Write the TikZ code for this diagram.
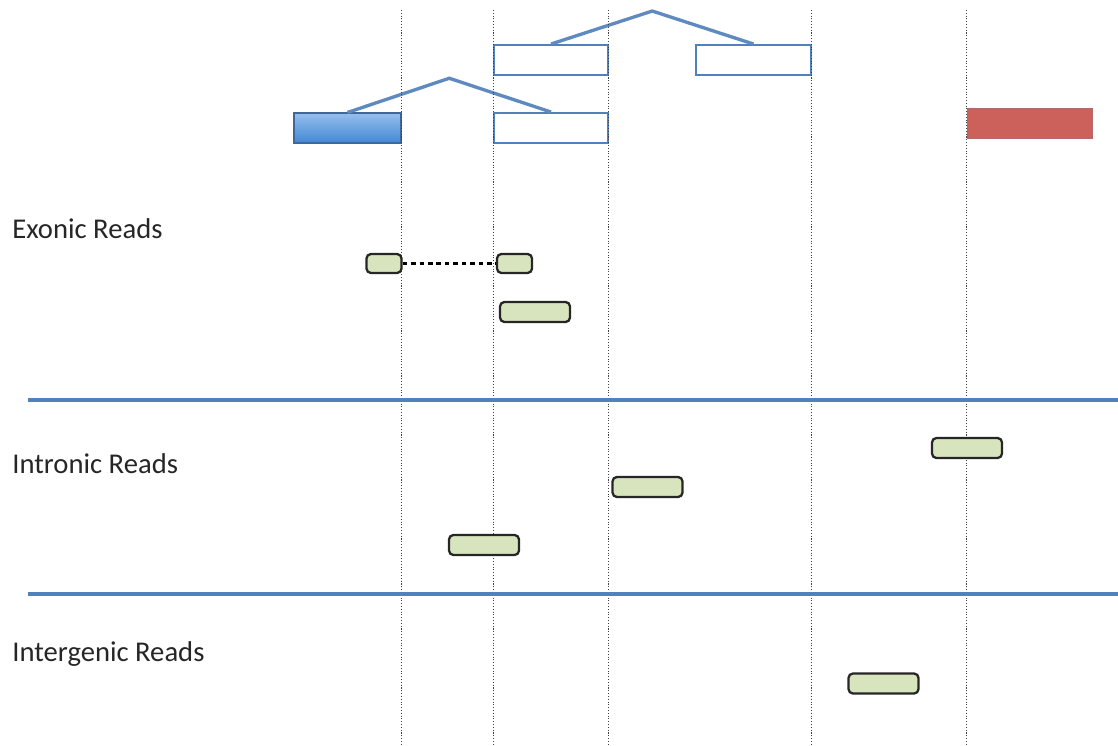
\documentclass[tikz,border=0pt]{standalone}
\usepackage{fontspec}
\setmainfont{Carlito}
\usetikzlibrary{calc}

\definecolor{exonblue}{RGB}{79,129,189}
\definecolor{spliceblue}{RGB}{95,138,192}
\definecolor{cdstop}{RGB}{150,190,236}
\definecolor{cdsbottom}{RGB}{66,136,214}
\definecolor{readgreen}{RGB}{215,228,189}
\definecolor{utrred}{RGB}{204,96,90}

\tikzset{
  exon/.style={draw=exonblue, line width=1.1pt, fill=white, inner sep=0pt,
    minimum height=0.6cm},
  read/.style={draw=black!85, line width=1.3pt, fill=readgreen, rounded corners=2.5pt,
    inner sep=0pt, minimum width=1.4cm, minimum height=0.4cm},
  shortread/.style={read, minimum width=0.7cm, minimum height=0.38cm},
  guide/.style={black!75, line width=0.6pt, densely dotted},
  splice/.style={spliceblue, line width=1.9pt},
  divider/.style={exonblue, line width=2pt},
  readtype/.style={anchor=base west, inner sep=0pt, text=black!85,
    font=\fontsize{16.3}{19}\selectfont}
}

\begin{document}
\begin{tikzpicture}[x=0.02cm, y=-0.02cm]
  \useasboundingbox (0,0) rectangle (1118,746);

  % gene model
  \node[exon, minimum width=2.14cm, draw=exonblue!80!black, line width=0.6pt,
    top color=cdstop, bottom color=cdsbottom] (cds) at (347.5,128) {};
  \node[exon, minimum width=2.28cm] (exA) at (551,128) {};
  \node[exon, minimum width=2.28cm] (exB) at (551,60) {};
  \node[exon, minimum width=2.30cm] (exC) at (753.5,60) {};
  \node[exon, minimum width=2.5cm, fill=utrred, draw=utrred!80!exonblue, line width=0.6pt]
    (utr) at (1029.5,123.5) {};

  \draw[splice] (cds.north) -- ($(cds.north)!0.5!(exA.north)+(0,-34)$) -- (exA.north);
  \draw[splice] (exB.north) -- ($(exB.north)!0.5!(exC.north)+(0,-33)$) -- (exC.north);

  % exon boundaries
  \coordinate (top) at (0,10);
  \coordinate (bottom) at (0,746);
  \foreach \b in {cds.east, exA.west, exA.east, exC.east, utr.west}
    \draw[guide] (\b |- top) -- (\b |- bottom);

  % read classes
  \coordinate (divA-l) at (28,400);
  \coordinate (divA-r) at (1118,400);
  \coordinate (divB-l) at (28,594);
  \coordinate (divB-r) at (1118,594);
  \draw[divider] (divA-l) -- (divA-r);
  \draw[divider] (divB-l) -- (divB-r);

  \node[readtype] (exonic) at (12,239) {Exonic Reads};
  \node[readtype] (intronic) at (12,473) {Intronic Reads};
  \node[readtype] (intergenic) at (12,661) {Intergenic Reads};

  % reads
  \node[shortread] (e1a) at (384,263.5) {};
  \node[shortread] (e1b) at (514.5,263.5) {};
  \draw[line width=1.7pt, dash pattern=on 2.6pt off 2.2pt] (e1a) -- (e1b);
  \node[read] (e2) at (535,312) {};

  \node[read] (i1) at (484,545) {};
  \node[read] (i2) at (647.5,487) {};
  \node[read] (i3) at (967,448) {};

  \node[read] (g1) at (883.5,683.5) {};
\end{tikzpicture}
\end{document}
